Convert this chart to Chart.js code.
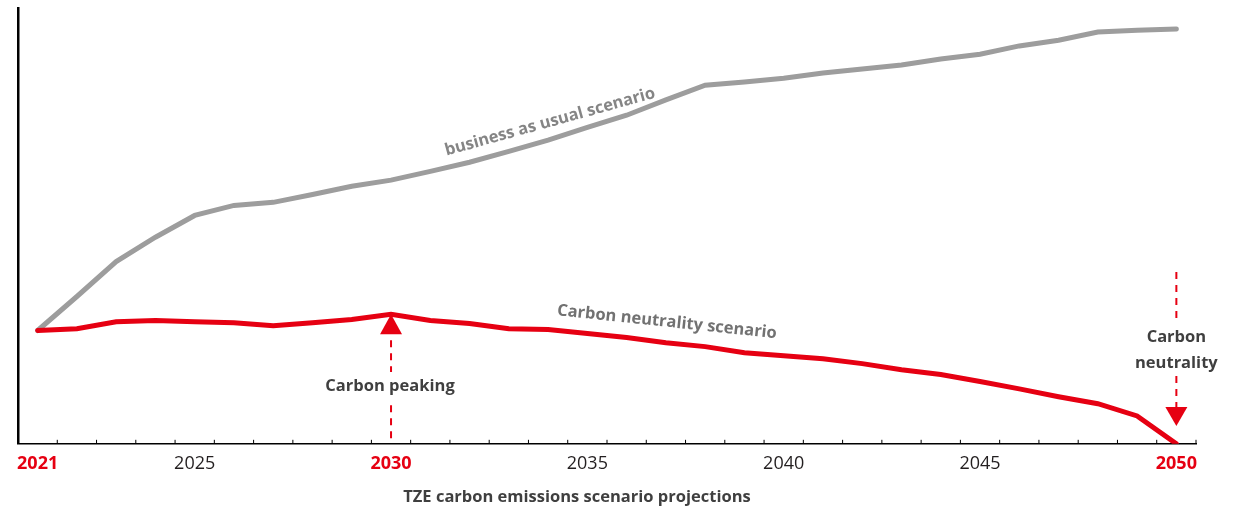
<!DOCTYPE html>
<html>
<head>
<meta charset="utf-8">
<script src="https://cdn.jsdelivr.net/npm/chart.js@4"></script>
<style>
body { margin: 0; background: #fff; }
#wrap { width: 1236px; height: 510px; }
</style>
</head>
<body>
<div id="wrap"><canvas id="scenarioChart"></canvas></div>
<script>
const years = [2021,2022,2023,2024,2025,2026,2027,2028,2029,2030,
  2031,2032,2033,2034,2035,2036,2037,2038,2039,2040,
  2041,2042,2043,2044,2045,2046,2047,2048,2049,2050];

const businessAsUsual = [26.0,33.8,41.8,47.4,52.4,54.7,55.4,57.2,59.1,60.5,
  62.5,64.6,67.1,69.7,72.6,75.4,78.9,82.3,83.0,83.9,
  85.1,86.0,86.9,88.3,89.4,91.3,92.6,94.5,94.9,95.2];

const carbonNeutral = [26.0,26.4,28.0,28.3,28.0,27.8,27.1,27.8,28.5,29.7,
  28.3,27.6,26.4,26.2,25.3,24.4,23.2,22.3,20.9,20.2,
  19.5,18.4,17.0,15.9,14.3,12.6,10.8,9.2,6.4,0];

const shownYears = [2021,2025,2030,2035,2040,2045,2050];
const keyYears = [2021,2030,2050];

const RED = "#e60012";
const GREY = "#9d9d9d";
const TEXT = "#3f3f3f";
const FONT = "'Open Sans', sans-serif";

// tick marks, arrows and text notes drawn on top
const notes = {
  id: "notes",
  afterDraw(chart) {
    const ctx = chart.ctx;
    const x = chart.scales.x;
    const y = chart.scales.y;
    const area = chart.chartArea;
    const step = x.getPixelForValue(1) - x.getPixelForValue(0);

    ctx.save();
    // small ticks pointing up, between years
    ctx.strokeStyle = "#000";
    ctx.lineWidth = 1;
    for (let i = 1; i <= years.length; i++) {
      const px = x.getPixelForValue(0) + (i - 0.5) * step;
      ctx.beginPath();
      ctx.moveTo(px, area.bottom);
      ctx.lineTo(px, area.bottom - 4);
      ctx.stroke();
    }

    ctx.font = "bold 16.5px " + FONT;
    ctx.textAlign = "center";
    ctx.textBaseline = "middle";

    // carbon peaking (2030)
    const iPeak = years.indexOf(2030);
    const xp = x.getPixelForValue(iPeak);
    const yp = y.getPixelForValue(carbonNeutral[iPeak]);
    ctx.strokeStyle = RED;
    ctx.lineWidth = 2;
    ctx.setLineDash([7, 6]);
    ctx.beginPath();
    ctx.moveTo(xp, yp + 26);
    ctx.lineTo(xp, area.bottom);
    ctx.stroke();
    ctx.setLineDash([]);
    ctx.fillStyle = RED;
    ctx.beginPath();
    ctx.moveTo(xp, yp);
    ctx.lineTo(xp + 11, yp + 20);
    ctx.lineTo(xp - 11, yp + 20);
    ctx.closePath();
    ctx.fill();
    ctx.fillStyle = "#fff";
    ctx.fillRect(xp - 80, 372, 160, 30);
    ctx.fillStyle = TEXT;
    ctx.fillText("Carbon peaking", xp - 1, 386);

    // carbon neutrality (2050)
    const iEnd = years.indexOf(2050);
    const xe = x.getPixelForValue(iEnd);
    ctx.strokeStyle = RED;
    ctx.setLineDash([7, 6]);
    ctx.beginPath();
    ctx.moveTo(xe, 272);
    ctx.lineTo(xe, 407);
    ctx.stroke();
    ctx.setLineDash([]);
    ctx.fillStyle = RED;
    ctx.beginPath();
    ctx.moveTo(xe - 11, 407);
    ctx.lineTo(xe + 11, 407);
    ctx.lineTo(xe, 426);
    ctx.closePath();
    ctx.fill();
    ctx.fillStyle = "#fff";
    ctx.fillRect(xe - 48, 322, 96, 54);
    ctx.fillStyle = TEXT;
    ctx.fillText("Carbon", xe, 337);
    ctx.fillText("neutrality", xe, 363);

    // axis title
    ctx.fillText("TZE carbon emissions scenario projections", 577, 497);

    // scenario labels along the lines
    ctx.fillStyle = "#858585";
    ctx.save();
    ctx.translate(550, 122);
    ctx.rotate(-15.5 * Math.PI / 180);
    ctx.fillText("business as usual scenario", 0, 0);
    ctx.restore();

    ctx.fillStyle = "#727272";
    ctx.save();
    ctx.translate(667, 322);
    ctx.rotate(6 * Math.PI / 180);
    ctx.fillText("Carbon neutrality scenario", 0, 0);
    ctx.restore();

    ctx.restore();
  }
};

new Chart(document.getElementById("scenarioChart"), {
  type: "line",
  data: {
    labels: years,
    datasets: [{
      label: "Carbon neutrality scenario",
      data: carbonNeutral,
      borderColor: RED,
      borderWidth: 5,
      pointRadius: 0,
      borderCapStyle: "round",
      tension: 0
    }, {
      label: "business as usual scenario",
      data: businessAsUsual,
      borderColor: GREY,
      borderWidth: 5,
      pointRadius: 0,
      borderCapStyle: "round",
      tension: 0
    }]
  },
  options: {
    responsive: true,
    maintainAspectRatio: false,
    animation: false,
    layout: { padding: { top: 8, right: 40, left: 18, bottom: 26.6 } },
    plugins: {
      legend: { display: false },
      tooltip: { enabled: false }
    },
    scales: {
      x: {
        offset: true,
        grid: { display: false, drawTicks: false },
        border: { display: true, color: "#000", width: 1.5 },
        ticks: {
          autoSkip: false,
          maxRotation: 0,
          padding: 9,
          callback: (v, i) => shownYears.includes(years[i]) ? String(years[i]) : "",
          color: (c) => keyYears.includes(years[c.index]) ? RED : "#231f20",
          font: (c) => ({ family: FONT, size: 18, weight: keyYears.includes(years[c.index]) ? "bold" : "normal" })
        }
      },
      y: {
        min: 0,
        max: 100,
        grid: { display: false, drawTicks: false },
        border: { display: true, color: "#000", width: 2.5 },
        ticks: { display: false }
      }
    }
  },
  plugins: [notes]
});
</script>
</body>
</html>
